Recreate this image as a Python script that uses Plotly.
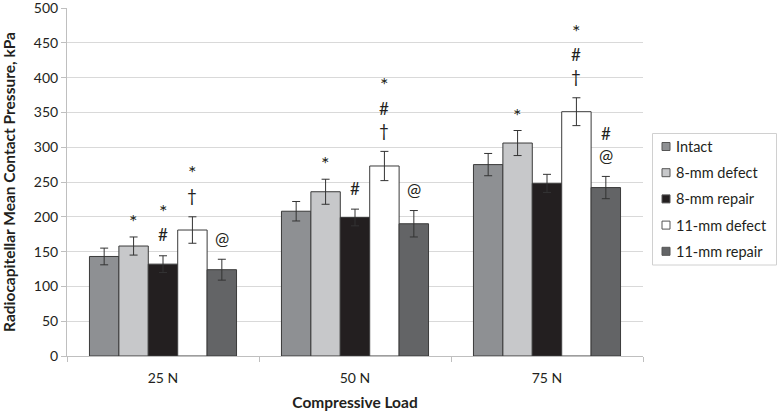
import plotly.graph_objects as go

categories = ["25 N", "50 N", "75 N"]
series_names = ["Intact", "8-mm defect", "8-mm repair", "11-mm defect", "11-mm repair"]

intact = [143, 208, 275]
defect_8 = [158, 236, 306]
repair_8 = [132, 199, 248]
defect_11 = [181, 273, 351]
repair_11 = [124, 190, 242]

intact_err = [12, 14, 16]
defect_8_err = [13, 18, 18]
repair_8_err = [12, 12, 13]
defect_11_err = [19, 21, 20]
repair_11_err = [15, 19, 16]

# significance symbols per bar (bottom -> top), per category
intact_sig = [[], [], []]
defect_8_sig = [["*"], ["*"], ["*"]]
repair_8_sig = [["#", "*"], ["#"], []]
defect_11_sig = [["†", "*"], ["†", "#", "*"], ["†", "#", "*"]]
repair_11_sig = [["@"], ["@"], ["@", "#"]]

y_ticks = [0, 50, 100, 150, 200, 250, 300, 350, 400, 450, 500]

values = [intact, defect_8, repair_8, defect_11, repair_11]
errors = [intact_err, defect_8_err, repair_8_err, defect_11_err, repair_11_err]
sigs = [intact_sig, defect_8_sig, repair_8_sig, defect_11_sig, repair_11_sig]
colors = ["#8e9093", "#c7c8ca", "#231f20", "#ffffff", "#636466"]

FONT = "Lato, 'Open Sans', sans-serif"
TXT = "#231f20"
bargap = 0.234

L, R, T, B = 67, 135, 8, 56
W, H = 778, 412
pw, ph = W - L - R, H - T - B

fig = go.Figure()
for name, v, e, c in zip(series_names, values, errors, colors):
    fig.add_trace(go.Bar(
        name=name, x=categories, y=v,
        marker=dict(color=c, line=dict(color="#3a3a3a", width=1)),
        error_y=dict(type="data", array=e, visible=True, color="#333333",
                     thickness=1, width=4),
    ))

n = len(series_names)
bw = (1 - bargap) / n
annotations = []
shapes = []
for si in range(n):
    for ci in range(len(categories)):
        top = values[si][ci] + errors[si][ci]
        pos = 0
        for k, sym in enumerate(sigs[si][ci]):
            if k == 0:
                pos = 21
            else:
                pos += 22 + (7 if sym == "*" else 0)
            star = sym == "*"
            annotations.append(dict(
                x=ci + (si - (n - 1) / 2) * bw, y=top, xref="x", yref="y",
                text=sym, showarrow=False, yanchor="middle", xanchor="center",
                yshift=pos - (5 if star else 0),
                font=dict(family=FONT, size=20 if star else 17, color=TXT),
            ))

# custom legend (small squares like the original)
def px_x(p):
    return (p - L) / pw

def px_y(p):
    return 1 - (p - T) / ph

shapes.append(dict(type="rect", xref="paper", yref="paper",
                   x0=px_x(652.5), x1=px_x(776.5), y0=px_y(265), y1=px_y(133.5),
                   line=dict(color="#d0d0d0", width=1), fillcolor="white"))
for i, (name, c) in enumerate(zip(series_names, colors)):
    yc = 146.5 + i * 26.2
    shapes.append(dict(type="rect", xref="paper", yref="paper",
                       x0=px_x(662), x1=px_x(670), y0=px_y(yc + 4), y1=px_y(yc - 4),
                       line=dict(color="#555555", width=1), fillcolor=c))
    annotations.append(dict(x=px_x(674), y=px_y(yc), xref="paper", yref="paper",
                            text=name, showarrow=False, xanchor="left", yanchor="middle",
                            font=dict(family=FONT, size=14.5, color=TXT)))

fig.update_layout(
    width=W, height=H,
    margin=dict(l=L, r=R, t=T, b=B),
    paper_bgcolor="white", plot_bgcolor="white",
    barmode="group", bargap=bargap, bargroupgap=0,
    font=dict(family=FONT, size=14, color=TXT),
    showlegend=False,
    annotations=annotations,
    shapes=shapes,
    xaxis=dict(
        title=dict(text="<b>Compressive Load</b>", font=dict(size=15.5, color=TXT), standoff=12),
        automargin=False,
        showline=True, linecolor="#bfbfbf", linewidth=1,
        ticks="outside", tickson="boundaries", ticklen=5, tickcolor="#bfbfbf",
        ticklabelstandoff=9,
        tickfont=dict(size=14, color=TXT),
        range=[-0.5, 2.5],
    ),
    yaxis=dict(
        title=dict(text="<b>Radiocapitellar Mean Contact Pressure, kPa</b>",
                   font=dict(size=15.5, color=TXT), standoff=14),
        automargin=False,
        range=[0, 500], tickmode="array", tickvals=y_ticks,
        ticktext=[str(t) for t in y_ticks],
        ticklabeloverflow="allow",
        showgrid=True, gridcolor="#d9d9d9", gridwidth=1,
        showline=True, linecolor="#bfbfbf", linewidth=1,
        ticks="outside", ticklen=5, tickcolor="#bfbfbf",
        tickfont=dict(size=14, color=TXT),
        zeroline=False,
    ),
)

fig.write_html("out.html", config={"displayModeBar": False},
               post_script="document.body.style.margin='0';")
